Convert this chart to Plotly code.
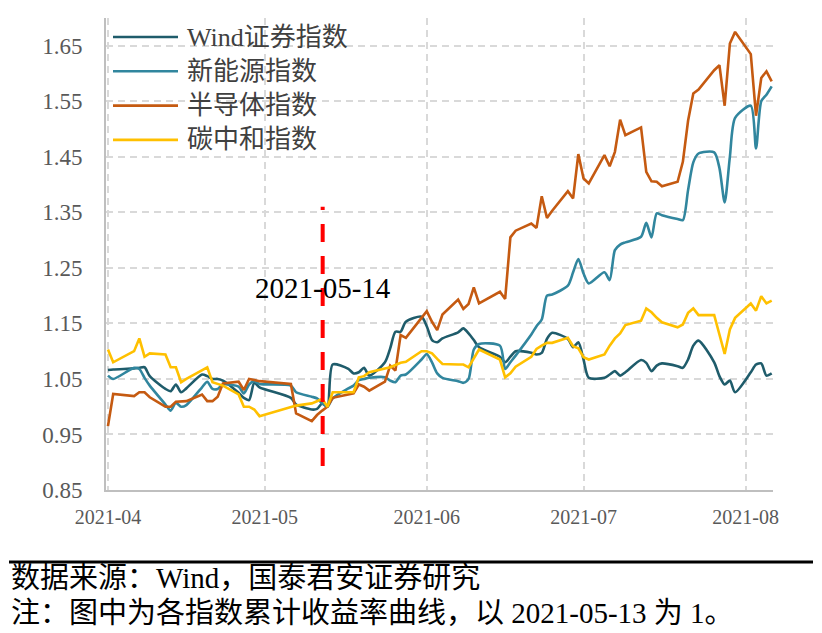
import plotly.graph_objects as go

# trading days shown on the chart
dates = (
    ["2021-04-%02d" % d for d in [1, 2, 6, 7, 8, 9, 12, 13, 14, 15, 16, 19, 20, 21, 22, 23, 26, 27, 28, 29, 30]]
    + ["2021-05-%02d" % d for d in [6, 7, 10, 11, 12, 13, 14, 17, 18, 19, 20, 21, 24, 25, 26, 27, 28, 31]]
    + ["2021-06-%02d" % d for d in [1, 2, 3, 4, 7, 8, 9, 10, 11, 15, 16, 17, 18, 21, 22, 23, 24, 25, 28, 29, 30]]
    + ["2021-07-%02d" % d for d in [1, 2, 5, 6, 7, 8, 9, 12, 13, 14, 15, 16, 19, 20, 21, 22, 23, 26, 27, 28, 29, 30]]
    + ["2021-08-%02d" % d for d in [2, 3, 4, 5, 6]]
)

wind = [1.066, 1.067, 1.069, 1.070, 1.071, 1.055, 1.032, 1.028, 1.040, 1.026, 1.033, 1.058, 1.055, 1.050, 1.050, 1.047, 1.025, 1.016, 1.012, 1.043, 1.035,
        1.016, 1.004, 0.995, 0.996, 1.006, 1.000, 1.076, 1.068, 1.060, 1.062, 1.070, 1.056, 1.080, 1.105, 1.135, 1.135, 1.153, 1.162,
        1.145, 1.120, 1.116, 1.123, 1.134, 1.141, 1.132, 1.120, 1.107, 1.090, 1.080, 1.090, 1.100, 1.097, 1.094, 1.097, 1.122, 1.133, 1.122, 1.107, 1.116,
        1.085, 1.052, 1.052, 1.058, 1.064, 1.056, 1.062, 1.084, 1.079, 1.064, 1.074, 1.078, 1.073, 1.070, 1.085, 1.110, 1.119, 1.080, 1.055, 1.040, 1.047, 1.026,
        1.062, 1.076, 1.078, 1.056, 1.060]
new_energy = [1.056, 1.050, 1.070, 1.068, 1.052, 1.038, 1.004, 0.993, 1.007, 1.000, 1.003, 1.035, 1.045, 1.032, 1.032, 1.040, 1.036, 1.024, 1.040, 1.046, 1.041,
              1.038, 1.026, 1.018, 1.015, 1.006, 1.000, 1.015, 1.033, 1.038, 1.048, 1.050, 1.052, 1.053, 1.047, 1.044, 1.056, 1.058, 1.085,
              1.095, 1.080, 1.060, 1.052, 1.046, 1.043, 1.050, 1.103, 1.113, 1.110, 1.068, 1.080, 1.092, 1.130, 1.145, 1.157, 1.200, 1.202, 1.218, 1.242, 1.266,
              1.240, 1.222, 1.242, 1.228, 1.282, 1.292, 1.296, 1.306, 1.331, 1.305, 1.348, 1.345, 1.338, 1.336, 1.390, 1.440, 1.456, 1.458, 1.430, 1.368, 1.450, 1.520,
              1.542, 1.465, 1.550, 1.562, 1.577]
semi = [0.965, 1.023, 1.019, 1.026, 1.026, 1.017, 1.000, 1.000, 1.009, 1.009, 1.010, 1.022, 1.010, 1.010, 1.018, 1.042, 1.045, 1.030, 1.050, 1.048, 1.046,
        1.041, 0.988, 0.974, 0.985, 0.993, 1.000, 1.016, 1.023, 1.024, 1.040, 1.036, 1.029, 1.045, 1.074, 1.065, 1.129, 1.124, 1.160,
        1.172, 1.153, 1.138, 1.166, 1.193, 1.176, 1.185, 1.215, 1.186, 1.207, 1.194, 1.305, 1.317, 1.330, 1.322, 1.379, 1.340, 1.353, 1.388, 1.375, 1.455,
        1.411, 1.402, 1.453, 1.433, 1.459, 1.517, 1.489, 1.503, 1.423, 1.406, 1.405, 1.397, 1.405, 1.441, 1.515, 1.564, 1.571, 1.606, 1.615, 1.542, 1.654, 1.675,
        1.635, 1.524, 1.592, 1.604, 1.586]
carbon = [1.103, 1.080, 1.100, 1.123, 1.090, 1.096, 1.094, 1.071, 1.071, 1.044, 1.050, 1.066, 1.071, 1.044, 1.041, 1.038, 1.022, 1.000, 1.000, 0.995, 0.983,
          1.000, 1.002, 1.006, 1.010, 1.014, 1.000, 1.026, 1.026, 1.026, 1.053, 1.055, 1.062, 1.068, 1.071, 1.075, 1.079, 1.081, 1.100,
          1.100, 1.096, 1.086, 1.077, 1.076, 1.076, 1.071, 1.088, 1.103, 1.085, 1.053, 1.060, 1.072, 1.090, 1.104, 1.110, 1.115, 1.115, 1.124, 1.109, 1.105,
          1.089, 1.085, 1.094, 1.110, 1.123, 1.132, 1.147, 1.155, 1.177, 1.170, 1.160, 1.152, 1.143, 1.148, 1.169, 1.177, 1.165, 1.165, 1.130, 1.095, 1.139, 1.160,
          1.186, 1.173, 1.199, 1.186, 1.191]

series = [
    ("Wind证券指数", wind, "#1F5C6B", True),
    ("新能源指数", new_energy, "#31869E", True),
    ("半导体指数", semi, "#C55A11", False),
    ("碳中和指数", carbon, "#FFC000", False),
]

event_x = "2021-05-12 02:00"
event_label = "2021-05-14"
source_text = "数据来源：Wind，国泰君安证券研究"
note_text = "注：图中为各指数累计收益率曲线，以 2021-05-13 为 1。"

SERIF = "Liberation Serif, Noto Sans CJK SC"
GRID = "#D9D9D9"
# page body adds an 8px margin, so the figure is laid out 8px smaller
OFF = 8
W, H = 822 - OFF, 633 - OFF
L, R, T, B = 106 - OFF, 49, 18 - OFF, 143
PW, PH = W - L - R, H - T - B


def px_x(p):  # screen pixel -> paper x
    return (p - OFF - L) / PW


def px_y(p):  # screen pixel -> paper y
    return (H - B - (p - OFF)) / PH


fig = go.Figure()
for name, vals, color, smooth in series:
    fig.add_trace(go.Scatter(
        x=dates, y=vals, name=name, mode="lines", showlegend=False,
        line=dict(color=color, width=2.6, shape="spline" if smooth else "linear", smoothing=0.7),
    ))

# hand-drawn legend (long line samples like the original)
shapes, annotations = [], []
for i, (name, _, color, _) in enumerate(series):
    yy = px_y(37 + i * 34.3)
    shapes.append(dict(type="line", xref="paper", yref="paper", x0=px_x(113), x1=px_x(178),
                       y0=yy, y1=yy, line=dict(color=color, width=2.6)))
    annotations.append(dict(xref="paper", yref="paper", x=px_x(185), y=yy, text=name, showarrow=False,
                            xanchor="left", yanchor="middle", font=dict(family=SERIF, size=26, color="#404040")))

# event marker
shapes.append(dict(type="line", xref="x", yref="y", x0=event_x, x1=event_x, y0=0.893, y1=1.36,
                   line=dict(color="#FF0000", width=4, dash="18px,14px")))
annotations.append(dict(xref="x", yref="y", x=event_x, y=1.213, text=event_label, showarrow=False,
                        xanchor="center", yanchor="middle", font=dict(family=SERIF, size=29, color="#000000")))

# footer
shapes.append(dict(type="line", xref="paper", yref="paper", x0=px_x(9), x1=px_x(813),
                   y0=px_y(562), y1=px_y(562), line=dict(color="#000000", width=3)))
for txt, py in [(source_text, 578), (note_text, 613)]:
    annotations.append(dict(xref="paper", yref="paper", x=px_x(9), y=px_y(py), text=txt, showarrow=False,
                            xanchor="left", yanchor="middle", font=dict(family=SERIF, size=29, color="#000000")))

fig.update_layout(
    width=W, height=H, margin=dict(l=L, r=R, t=T, b=B),
    paper_bgcolor="white", plot_bgcolor="white",
    shapes=shapes, annotations=annotations,
    xaxis=dict(type="date", range=["2021-03-31 15:00", "2021-08-06 06:00"], tick0="2021-04-01", dtick="M1",
               tickformat="%Y-%m", showgrid=True, gridcolor=GRID, gridwidth=2, griddash="7px,5px",
               showline=True, linecolor="#BFBFBF", linewidth=2, ticks="", ticklabelstandoff=8,
               tickfont=dict(family=SERIF, size=20, color="#595959")),
    yaxis=dict(range=[0.85, 1.70], tick0=0.85, dtick=0.1, tickformat=".2f",
               showgrid=True, gridcolor=GRID, gridwidth=2, griddash="7px,5px", zeroline=False,
               showline=True, linecolor="#BFBFBF", linewidth=2, ticks="", ticklabelstandoff=17,
               tickfont=dict(family=SERIF, size=23, color="#595959")),
)

fig.write_html("out.html")
